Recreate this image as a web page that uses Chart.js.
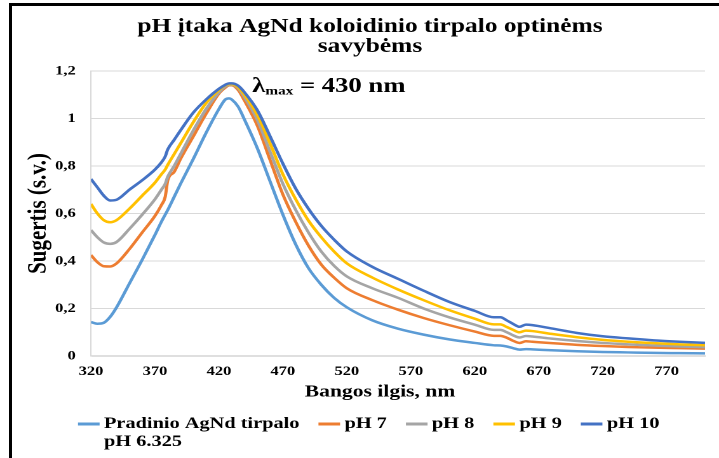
<!DOCTYPE html>
<html><head><meta charset="utf-8">
<script src="https://cdn.jsdelivr.net/npm/chart.js@4.4.1/dist/chart.umd.min.js"></script>
<style>
html,body{margin:0;padding:0;background:#fff;overflow:hidden;width:719px;height:458px;}
#wrap{position:absolute;left:0;top:0;width:566px;height:458px;transform:scaleX(1.27032);transform-origin:0 0;}
#frame{position:absolute;left:9px;top:3px;width:720px;height:470px;border-left:3px solid #000;border-top:3px solid #000;z-index:2;pointer-events:none;}
</style></head>
<body>
<div id="wrap"><canvas id="c" width="566" height="458"></canvas></div>
<div id="frame"></div>
<script>
// ---------- data ----------
const wavelengths = [320,325,330,335,340,350,360,370,375,378,380,385,390,400,410,420,425,428,430,435,440,450,460,470,480,490,500,510,520,540,560,580,600,620,635,640,645,650,655,660,665,680,700,720,740,760,780,800];

const pradinis = [0.143,0.136,0.140,0.165,0.205,0.305,0.405,0.51,0.565,0.595,0.615,0.67,0.725,0.83,0.94,1.04,1.08,1.085,1.08,1.05,0.995,0.875,0.735,0.595,0.47,0.37,0.30,0.245,0.205,0.15,0.115,0.09,0.07,0.055,0.045,0.044,0.040,0.033,0.027,0.029,0.028,0.024,0.020,0.017,0.015,0.013,0.012,0.011];
const pH7 = [0.425,0.395,0.378,0.377,0.39,0.45,0.52,0.59,0.635,0.67,0.74,0.775,0.83,0.925,1.02,1.105,1.13,1.14,1.14,1.12,1.075,0.97,0.825,0.68,0.565,0.465,0.385,0.33,0.285,0.235,0.195,0.16,0.13,0.103,0.085,0.085,0.077,0.064,0.055,0.062,0.06,0.054,0.047,0.042,0.038,0.035,0.033,0.031];
const pH8 = [0.53,0.5,0.478,0.472,0.48,0.535,0.595,0.66,0.70,0.725,0.755,0.80,0.85,0.95,1.04,1.11,1.135,1.142,1.142,1.128,1.09,0.995,0.86,0.725,0.615,0.52,0.44,0.38,0.335,0.285,0.245,0.2,0.163,0.132,0.11,0.11,0.10,0.087,0.078,0.084,0.082,0.073,0.063,0.055,0.049,0.044,0.04,0.037];
const pH9 = [0.64,0.6,0.572,0.563,0.572,0.62,0.675,0.73,0.765,0.785,0.805,0.85,0.895,0.985,1.065,1.12,1.14,1.145,1.145,1.132,1.1,1.015,0.895,0.765,0.66,0.57,0.50,0.44,0.39,0.33,0.28,0.235,0.193,0.157,0.133,0.133,0.122,0.11,0.1,0.107,0.105,0.093,0.079,0.068,0.06,0.054,0.049,0.045];
const pH10 = [0.745,0.71,0.675,0.655,0.658,0.7,0.74,0.785,0.815,0.84,0.87,0.91,0.95,1.025,1.08,1.125,1.142,1.148,1.148,1.138,1.11,1.035,0.925,0.81,0.705,0.62,0.548,0.49,0.44,0.375,0.325,0.275,0.228,0.19,0.163,0.163,0.15,0.135,0.123,0.132,0.13,0.116,0.097,0.083,0.074,0.066,0.06,0.055];

const seriesLabels = [['Pradinio AgNd tirpalo','pH 6.325'], ['pH 7'], ['pH 8'], ['pH 9'], ['pH 10']];
const seriesValues = [pradinis, pH7, pH8, pH9, pH10];

const xTickValues = [320,370,420,470,520,570,620,670,720,770];
const yTickValues = [0,0.2,0.4,0.6,0.8,1,1.2];
const yTickLabels = ['0','0,2','0,4','0,6','0,8','1','1,2'];

const titleLines = ['pH įtaka AgNd koloidinio tirpalo optinėms', 'savybėms'];
const xTitle = 'Bangos ilgis, nm';
const yTitle = 'Sugertis (s.v.)';
const annotParts = ['λ', 'max', ' = 430 nm'];
const annotAt = {x: 446, y: 1.135};

// ---------- styles ----------
const seriesColors = ['#5B9BD5', '#ED7D31', '#A5A5A5', '#FFC000', '#4472C4'];
const S = 719 / 566;             // horizontal stretch of the reference picture
const px = v => v / S;           // reference x -> canvas x
const FAM = '"Liberation Serif", "Times New Roman", serif';

const overlay = {
  id: 'overlay',
  afterDraw(chart) {
    const ctx = chart.ctx;
    ctx.save();
    ctx.fillStyle = '#000';
    ctx.textBaseline = 'middle';
    ctx.textAlign = 'center';
    ctx.font = 'bold 20px ' + FAM;
    ctx.fillText(titleLines[0], px(370), 27);
    ctx.fillText(titleLines[1], px(370), 47);

    ctx.font = 'bold 17px ' + FAM;
    ctx.fillText(xTitle, px(380), 392);

    // annotation
    const xs = chart.scales.x, ys = chart.scales.y;
    let ax = xs.getPixelForValue(annotAt.x);
    const ay = ys.getPixelForValue(annotAt.y);
    ctx.textAlign = 'left';
    ctx.font = 'bold 21px ' + FAM;
    ctx.fillText(annotParts[0], ax, ay);
    ax += ctx.measureText(annotParts[0]).width;
    ctx.font = 'bold 12px ' + FAM;
    ctx.fillText(annotParts[1], ax, ay + 5);
    ax += ctx.measureText(annotParts[1]).width;
    ctx.font = 'bold 21px ' + FAM;
    ctx.fillText(annotParts[2], ax, ay);

    // legend
    ctx.font = 'bold 16px ' + FAM;
    let lx = px(78);
    const ly = 424, lineLen = 17, gap = 3.5, spacing = 15, rowH = 18;
    chart.data.datasets.forEach((ds, i) => {
      const lines = seriesLabels[i];
      ctx.strokeStyle = ds.borderColor;
      ctx.lineWidth = 3;
      ctx.beginPath();
      ctx.moveTo(lx, ly); ctx.lineTo(lx + lineLen, ly);
      ctx.stroke();
      const tx = lx + lineLen + gap;
      lines.forEach((t, k) => ctx.fillText(t, tx, ly + k * rowH));
      lx = tx + ctx.measureText(lines[0]).width + spacing;
    });
    ctx.restore();
  }
};

new Chart(document.getElementById('c'), {
  type: 'line',
  data: {
    datasets: seriesValues.map((vals, i) => ({
      label: seriesLabels[i].join(' '),
      data: wavelengths.map((w, j) => ({x: w, y: vals[j]})),
      borderColor: seriesColors[i],
      backgroundColor: seriesColors[i],
      borderWidth: 2.5,
      pointRadius: 0,
      cubicInterpolationMode: 'monotone',
      fill: false,
      order: 5 - i
    }))
  },
  options: {
    responsive: false,
    animation: false,
    devicePixelRatio: 2,
    layout: {padding: {top: 71, left: 0, right: 11, bottom: 0}},
    plugins: {legend: {display: false}, tooltip: {enabled: false}, title: {display: false}},
    scales: {
      x: {
        type: 'linear', min: 320, max: 800,
        afterBuildTicks: s => { s.ticks = xTickValues.map(v => ({value: v})); },
        afterFit: s => { s.height = 102; },
        grid: {display: false, drawTicks: false},
        border: {display: true, color: '#bfbfbf', width: 1},
        ticks: {padding: 8, maxRotation: 0, autoSkip: false, color: '#000',
                font: {family: FAM, size: 13, weight: 'bold'}, callback: v => String(v)}
      },
      y: {
        min: 0, max: 1.2,
        afterBuildTicks: s => { s.ticks = yTickValues.map(v => ({value: v})); },
        afterFit: s => { s.width = px(91); },
        grid: {color: '#d9d9d9', lineWidth: 1, drawTicks: false},
        border: {display: true, color: '#d9d9d9', width: 1},
        ticks: {padding: 12, color: '#000', font: {family: FAM, size: 13, weight: 'bold'},
                callback: (v, i) => yTickLabels[i]},
        title: {display: true, text: yTitle, color: '#000',
                font: {family: FAM, size: 21, weight: 'bold'}, padding: {top: 18, bottom: 0}}
      }
    }
  },
  plugins: [overlay]
});
</script>
</body></html>
